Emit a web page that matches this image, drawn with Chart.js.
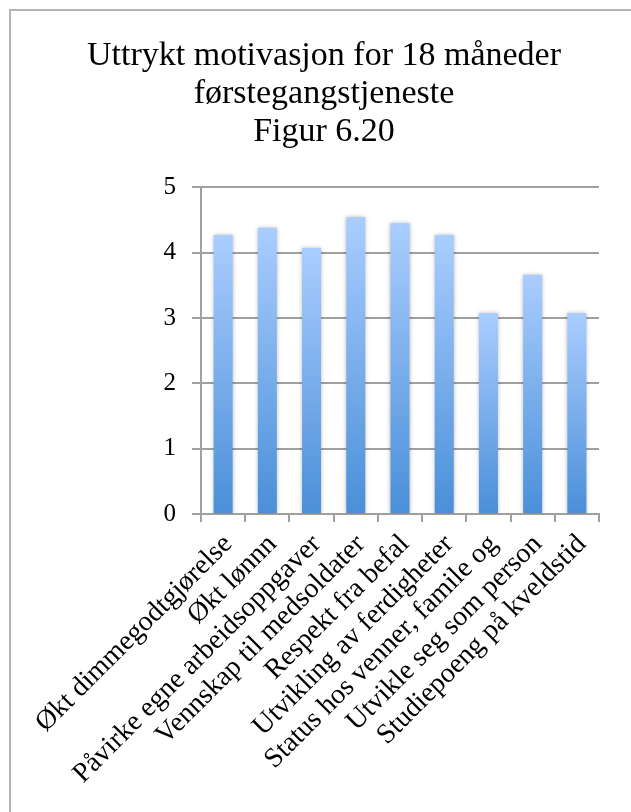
<!DOCTYPE html>
<html lang="no">
<head>
<meta charset="utf-8">
<title>Uttrykt motivasjon for 18 måneder førstegangstjeneste</title>
<script src="https://cdn.jsdelivr.net/npm/chart.js@4"></script>
<style>
  html, body { margin:0; padding:0; background:#fff; overflow:hidden; }
  #frame { position:absolute; left:9px; top:9px; width:700px; height:900px;
           border-top:2px solid #b4b4b4; border-left:2px solid #b4b4b4; }
  #wrap { position:absolute; left:0; top:0; width:648px; height:900px; }
</style>
</head>
<body>
<div id="frame"></div>
<div id="wrap"><canvas id="motivChart"></canvas></div>
<script>
const titleLines = ["Uttrykt motivasjon for 18 måneder", "førstegangstjeneste", "Figur 6.20"];

const categories = [
  "Økt dimmegodtgjørelse",
  "Økt lønnn",
  "Påvirke egne arbeidsoppgaver",
  "Vennskap til medsoldater",
  "Respekt fra befal",
  "Utvikling av ferdigheter",
  "Status hos venner, famile og",
  "Utvikle seg som person",
  "Studiepoeng på kveldstid"
];

const scores = [4.27, 4.38, 4.07, 4.54, 4.45, 4.27, 3.07, 3.66, 3.07];

const yMin = 0;
const yMax = 5;
const yStep = 1;

const FONT = "'Liberation Serif', 'Times New Roman', serif";
const GRID = "#a0a0a0";

// vertical gradient per bar: light on top, darker at the base
function barFill(c){
  const chart = c.chart;
  if(!chart.chartArea) return "#7aaef0";
  const y = chart.scales.y;
  const top = y.getPixelForValue(scores[c.dataIndex]);
  const base = y.getPixelForValue(0);
  const g = chart.ctx.createLinearGradient(0, top, 0, base);
  g.addColorStop(0, "#aacdff");
  g.addColorStop(1, "#4a8fd8");
  return g;
}

// soft shadow round the bars
const barShadow = {
  id: "barShadow",
  beforeDatasetsDraw(chart){
    const c = chart.ctx;
    c.save();
    c.shadowColor = "rgba(0,0,0,0.28)";
    c.shadowBlur = 4;
    c.shadowOffsetX = 0;
    c.shadowOffsetY = 0;
  },
  afterDatasetsDraw(chart){
    chart.ctx.restore();
  }
};

new Chart(document.getElementById("motivChart"), {
  type: "bar",
  data: {
    labels: categories,
    datasets: [{
      data: scores,
      backgroundColor: barFill,
      borderWidth: 0,
      barPercentage: 0.43,
      categoryPercentage: 1
    }]
  },
  options: {
    responsive: true,
    maintainAspectRatio: false,
    animation: false,
    layout: { padding: 0 },
    plugins: {
      legend: { display: false },
      tooltip: { enabled: false },
      title: {
        display: true,
        text: titleLines,
        color: "#000",
        font: { family: FONT, size: 34, weight: "normal", lineHeight: 1.12 },
        padding: { top: 37, bottom: 36 }
      }
    },
    scales: {
      x: {
        grid: { offset: true, drawOnChartArea: false, drawTicks: true, tickLength: 8, color: GRID, lineWidth: 2 },
        border: { color: GRID, width: 2 },
        ticks: {
          minRotation: 45,
          maxRotation: 45,
          autoSkip: false,
          color: "#000",
          padding: 6,
          labelOffset: 5,
          font: { family: FONT, size: 28 }
        },
        afterFit(scale){ scale.height = 386; }
      },
      y: {
        min: yMin,
        max: yMax,
        grid: { color: GRID, lineWidth: 2, tickLength: 9 },
        border: { color: GRID, width: 2 },
        ticks: {
          stepSize: yStep,
          color: "#000",
          padding: 16,
          font: { family: FONT, size: 25 }
        },
        afterFit(scale){ scale.width = 201; }
      },
      // empty right-hand strip so the plot stops short of the title width
      side: {
        position: "right",
        min: yMin,
        max: yMax,
        grid: { display: false },
        border: { display: false },
        ticks: { display: false },
        afterFit(scale){ scale.width = 49; }
      }
    }
  },
  plugins: [barShadow]
});
</script>
</body>
</html>
